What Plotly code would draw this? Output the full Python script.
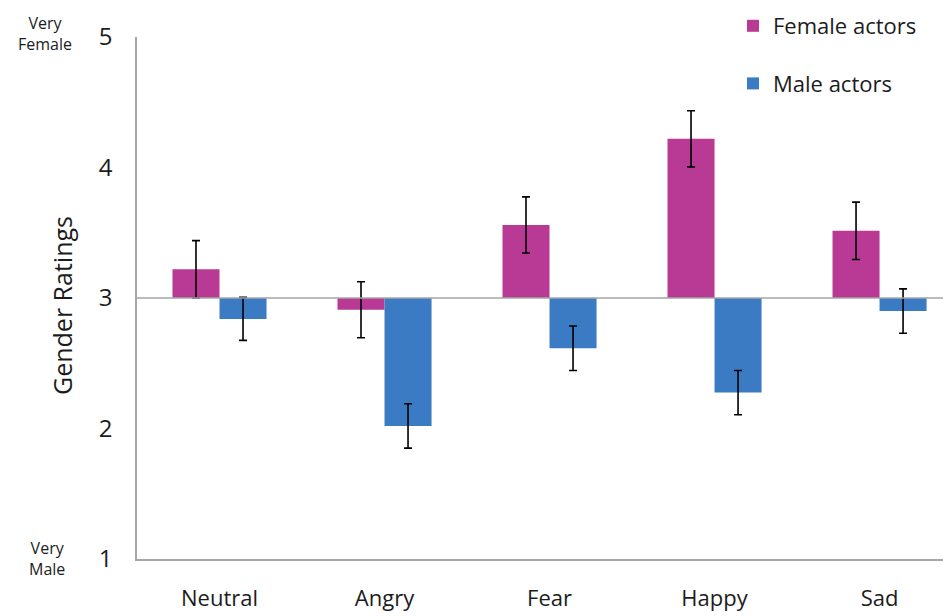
import plotly.graph_objects as go

categories = ["Neutral", "Angry", "Fear", "Happy", "Sad"]
female_values = [3.22, 2.91, 3.56, 4.22, 3.515]
female_err = [0.22, 0.215, 0.215, 0.215, 0.22]
male_values = [2.84, 2.02, 2.615, 2.275, 2.90]
male_err = [0.165, 0.17, 0.17, 0.17, 0.17]
baseline = 3
y_ticks = [1, 2, 3, 4, 5]

FEMALE = "#B93A94"
MALE = "#3B7BC3"
FONT = "Open Sans"
TXT = "#1c1c1c"

# the page body adds an 8px offset; figure coordinates below compensate for it
OFF = 8

fig = go.Figure()
fig.add_trace(go.Bar(
    x=categories, y=[v - baseline for v in female_values], base=baseline,
    name="Female actors", marker=dict(color=FEMALE, line=dict(width=0)),
    error_y=dict(type="data", array=female_err, color="black", thickness=1.6, width=4),
    legendgroup="f",
))
fig.add_trace(go.Bar(
    x=categories, y=[v - baseline for v in male_values], base=baseline,
    name="Male actors", marker=dict(color=MALE, line=dict(width=0)),
    error_y=dict(type="data", array=male_err, color="black", thickness=1.6, width=4),
    legendgroup="m",
))

fig.add_shape(type="line", xref="paper", yref="y", x0=0, x1=1, y0=baseline, y1=baseline,
              line=dict(color="#A6A6A6", width=1.5), layer="above")

W, H = 951, 616
L, R, T, B = 137 - OFF, OFF, 37 - OFF, 57 + OFF
pw, ph = W - L - R, H - T - B

def px(x):
    # x in page pixels -> paper fraction
    return (x - OFF - L) / pw

def py(y):
    return (H - B - (y - OFF)) / ph

fig.add_annotation(x=px(62), y=py(306), xref="paper", yref="paper", text="Gender Ratings",
                   xanchor="center", yanchor="middle",
                   textangle=-90, showarrow=False, font=dict(family=FONT, size=25, color=TXT))
fig.add_annotation(x=px(45), y=py(34), xref="paper", yref="paper", text="Very<br>Female",
                   xanchor="center", yanchor="middle",
                   showarrow=False, align="center", font=dict(family=FONT, size=16, color=TXT))
fig.add_annotation(x=px(47), y=py(558), xref="paper", yref="paper", text="Very<br>Male",
                   xanchor="center", yanchor="middle",
                   showarrow=False, align="center", font=dict(family=FONT, size=16, color=TXT))

fig.update_layout(
    width=W, height=H, autosize=False,
    margin=dict(l=L, r=R, t=T, b=B, pad=0, autoexpand=False),
    plot_bgcolor="white", paper_bgcolor="white",
    barmode="group", bargap=0.43, bargroupgap=0,
    font=dict(family=FONT, color=TXT),
    legend=dict(x=px(733), y=py(5), xref="paper", yref="paper", xanchor="left", yanchor="top",
                traceorder="grouped", tracegroupgap=26,
                font=dict(family=FONT, size=22, color=TXT), bgcolor="rgba(0,0,0,0)"),
    xaxis=dict(range=[-0.5, 4.433], showline=True, linecolor="#A6A6A6", linewidth=1.5,
               ticks="", showgrid=False, tickfont=dict(family=FONT, size=22, color=TXT),
               ticklabelstandoff=19, fixedrange=True),
    yaxis=dict(range=[1, 5], tickvals=y_ticks, showline=True, linecolor="#A6A6A6", linewidth=1.5,
               ticks="", showgrid=False, zeroline=False,
               tickfont=dict(family=FONT, size=24, color=TXT), ticklabelstandoff=18, fixedrange=True),
    showlegend=True,
)

fig.write_html("out.html")
